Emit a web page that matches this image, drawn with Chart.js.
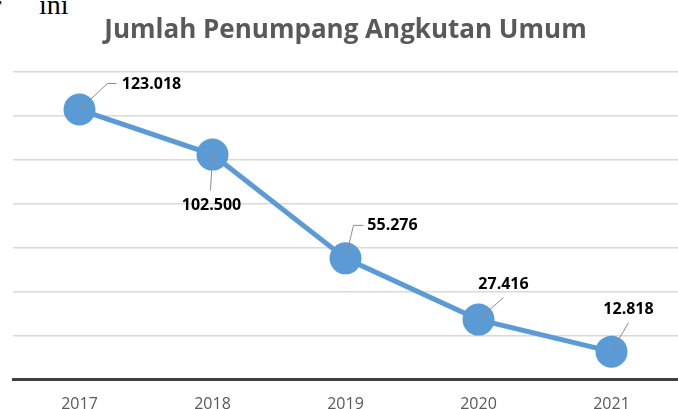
<!DOCTYPE html>
<html>
<head>
<meta charset="utf-8">
<script src="https://cdn.jsdelivr.net/npm/chart.js@4"></script>
<style>
    html, body { margin: 0; padding: 0; background: #fff; overflow: hidden; }
    .wrap { position: relative; width: 678px; height: 409px; overflow: hidden; }
    .doc-text { position: absolute; font-family: "Liberation Serif", serif; font-size: 28px; color: #000; line-height: 1; white-space: nowrap; }
    #chart { position: absolute; left: 0; top: 0; }
</style>
</head>
<body>
<div class="wrap">
    <span class="doc-text" style="left:-8px; top:-9px;">r</span>
    <span class="doc-text" style="left:39px; top:-9px;">ini</span>
    <canvas id="chart" width="678" height="429"></canvas>
</div>
<script>
// ─── DATA ───
const years = ['2017', '2018', '2019', '2020', '2021'];
const penumpang = [123018, 102500, 55276, 27416, 12818];
const yMin = 0;
const yMax = 140000;
const yStep = 20000;

// ─── LABEL PLACEMENT (pixel offsets from each point) ───
const labelLayout = [
    { dx: 72, dy: -25, leader: [[28, -26], [37, -26]] },
    { dx: -1, dy: 51, leader: [[-2, 36]] },
    { dx: 47, dy: -33, leader: [[8, -33], [18, -33]] },
    { dx: 25, dy: -35, leader: [[25, -22]] },
    { dx: 17, dy: -42, leader: [[17, -29]] }
];

const fmt = v => String(v).replace(/\B(?=(\d{3})+(?!\d))/g, '.');

const leaderLabels = {
    id: 'leaderLabels',
    afterDatasetsDraw(chart) {
        const { ctx } = chart;
        const meta = chart.getDatasetMeta(0);
        meta.data.forEach((pt, i) => {
            const o = labelLayout[i];
            ctx.save();
            ctx.strokeStyle = '#8c8c8c';
            ctx.lineWidth = 1;
            ctx.beginPath();
            ctx.moveTo(pt.x, pt.y);
            o.leader.forEach(([dx, dy]) => ctx.lineTo(pt.x + dx, pt.y + dy));
            ctx.stroke();
            ctx.font = 'bold 16px "Open Sans"';
            ctx.fillStyle = '#000';
            ctx.textAlign = 'center';
            ctx.textBaseline = 'middle';
            ctx.fillText(fmt(penumpang[i]), pt.x + o.dx, pt.y + o.dy);
            ctx.restore();
        });
    }
};

new Chart(document.getElementById('chart'), {
    type: 'line',
    data: {
        labels: years,
        datasets: [{
            data: penumpang,
            borderColor: '#5b9bd5',
            backgroundColor: '#5b9bd5',
            borderWidth: 5,
            pointRadius: 16,
            pointHoverRadius: 16,
            pointBorderWidth: 0,
            pointBackgroundColor: '#5b9bd5',
            tension: 0,
            clip: false
        }]
    },
    options: {
        responsive: false,
        devicePixelRatio: 1,
        animation: false,
        layout: { autoPadding: false, padding: { left: 13, right: 0, top: 0, bottom: 0 } },
        plugins: {
            legend: { display: false },
            tooltip: { enabled: false },
            title: {
                display: true,
                text: 'Jumlah Penumpang Angkutan Umum',
                color: '#595959',
                font: { family: 'Open Sans', size: 26, weight: 'bold' },
                padding: { top: 15, bottom: 26 }
            }
        },
        scales: {
            x: {
                offset: true,
                grid: { display: false, drawTicks: false },
                border: { display: true, color: '#404040', width: 3 },
                ticks: { color: '#595959', font: { family: 'Open Sans', size: 16 }, padding: 15 }
            },
            y: {
                min: yMin,
                max: yMax,
                ticks: { display: false, stepSize: yStep },
                grid: { color: '#d9d9d9', lineWidth: 1.5, drawTicks: false },
                border: { display: false }
            }
        }
    },
    plugins: [leaderLabels]
});
</script>
</body>
</html>
